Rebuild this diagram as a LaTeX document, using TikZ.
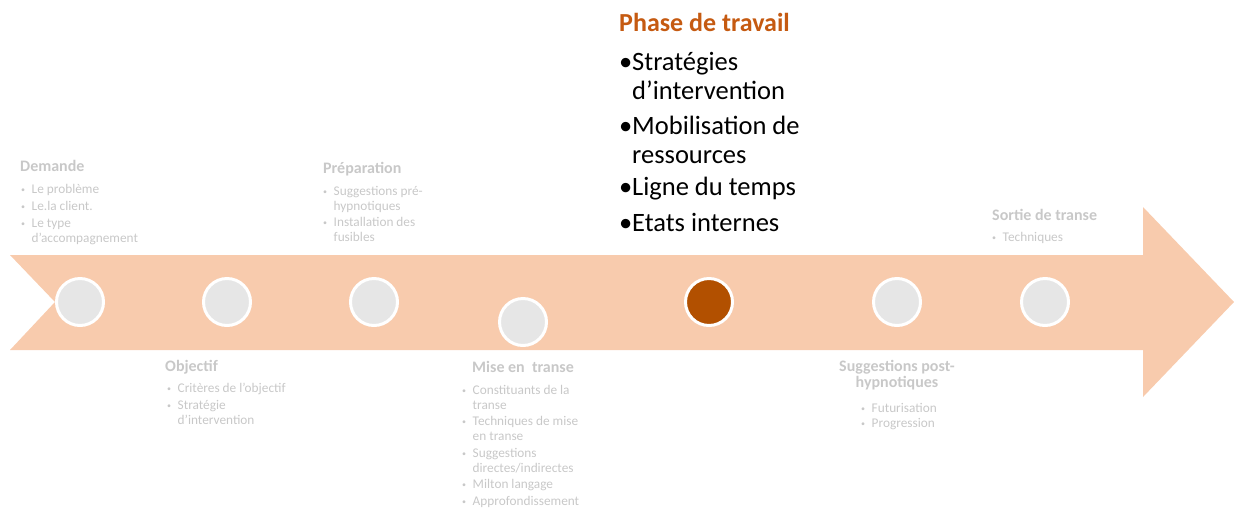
\documentclass[tikz,border=0pt]{standalone}
\usepackage{fontspec}
\setmainfont{Carlito}
\definecolor{peach}{RGB}{248,203,173}
\definecolor{dotgray}{RGB}{230,230,230}
\definecolor{dotbrown}{RGB}{178,80,0}
\definecolor{fadetext}{RGB}{200,200,200}
\definecolor{titleorange}{RGB}{197,90,17}
\newcommand{\sbl}[1]{\makebox[11.5pt][l]{\hspace*{1pt}\raisebox{1pt}{\fontsize{8}{8}\selectfont•}}#1}
\newcommand{\scl}[1]{\hspace*{11.5pt}#1}
\newcommand{\bbl}[1]{\makebox[13pt][l]{•}#1}
\newcommand{\bcl}[1]{\hspace*{13pt}#1}
\tikzset{
  dot/.style={circle, draw=white, line width=3pt, fill=dotgray, minimum size=47pt, inner sep=0pt},
  activedot/.style={dot, fill=dotbrown},
  faded/.style={anchor=base west, inner sep=0pt, align=left, text=fadetext,
    font=\fontsize{13.3}{15}\selectfont},
  fadedtitle/.style={anchor=base west, inner sep=0pt, align=left, text=fadetext,
    font=\fontsize{16}{16}\selectfont\bfseries},
}
\begin{document}
\begin{tikzpicture}[x=1pt,y=-1pt]
\useasboundingbox (0,0) rectangle (1234,512);
\fill[peach] (10,255) -- (1143,255) -- (1143,207) -- (1234,302) -- (1143,397)
  -- (1143,350) -- (10,350) -- (55,302) -- cycle;
\node[dot] (c1) at (80,302) {};
\node[dot] (c2) at (227,302) {};
\node[dot] (c3) at (374,302) {};
\node[dot] (c4) at (523,322) {};
\node[activedot] (c5) at (709,302) {};
\node[dot] (c6) at (897,302) {};
\node[dot] (c7) at (1045,302) {};
% Demande (node base = last line baseline)
\node[fadedtitle] (t1) at (20,171) {Demande};
\node[faded] (l1) at (20,242) {\sbl{Le problème}\\[2pt] \sbl{Le.la client.}\\[2pt] \sbl{Le type}\\ \scl{d’accompagnement}};
% Objectif
\node[fadedtitle] (t2) at (165,371) {Objectif};
\node[faded] (l2) at (166,424) {\sbl{Critères de l’objectif}\\[2pt] \sbl{Stratégie}\\ \scl{d’intervention}};
% Preparation
\node[fadedtitle] (t3) at (323,173) {Préparation};
\node[faded] (l3) at (322,241) {\sbl{Suggestions pré-}\\ \scl{hypnotiques}\\[1pt] \sbl{Installation des}\\ \scl{fusibles}};
% Mise en transe
\node[fadedtitle] (t4) at (472,372) {Mise en\ \ transe};
\node[faded] (l4) at (461,505) {\sbl{Constituants de la}\\ \scl{transe}\\[1.5pt] \sbl{Techniques de mise}\\ \scl{en transe}\\[1.5pt] \sbl{Suggestions}\\ \scl{directes/indirectes}\\[1.5pt] \sbl{Milton langage}\\[1.5pt] \sbl{Approfondissement}};
% Phase de travail
\node[anchor=base west, inner sep=0pt, text=titleorange, font=\fontsize{26}{28}\selectfont\bfseries] (t5) at (619,31) {Phase de travail};
\node[anchor=base west, inner sep=0pt, align=left, font=\fontsize{26.5}{29}\selectfont] (l5) at (619,231)
  {\bbl{Stratégies}\\ \bcl{d’intervention}\\[6pt] \bbl{Mobilisation de}\\ \bcl{ressources}\\[3pt] \bbl{Ligne du temps}\\[7pt] \bbl{Etats internes}};
% Suggestions post-hypnotiques
\node[fadedtitle, anchor=base, align=center] (t6) at (897,387) {Suggestions post-\\hypnotiques};
\node[faded] (l6) at (860,427) {\sbl{Futurisation}\\ \sbl{Progression}};
% Sortie de transe
\node[fadedtitle] (t7) at (992,220) {Sortie de transe};
\node[faded] (l7) at (991,241) {\sbl{Techniques}};
\end{tikzpicture}
\end{document}
